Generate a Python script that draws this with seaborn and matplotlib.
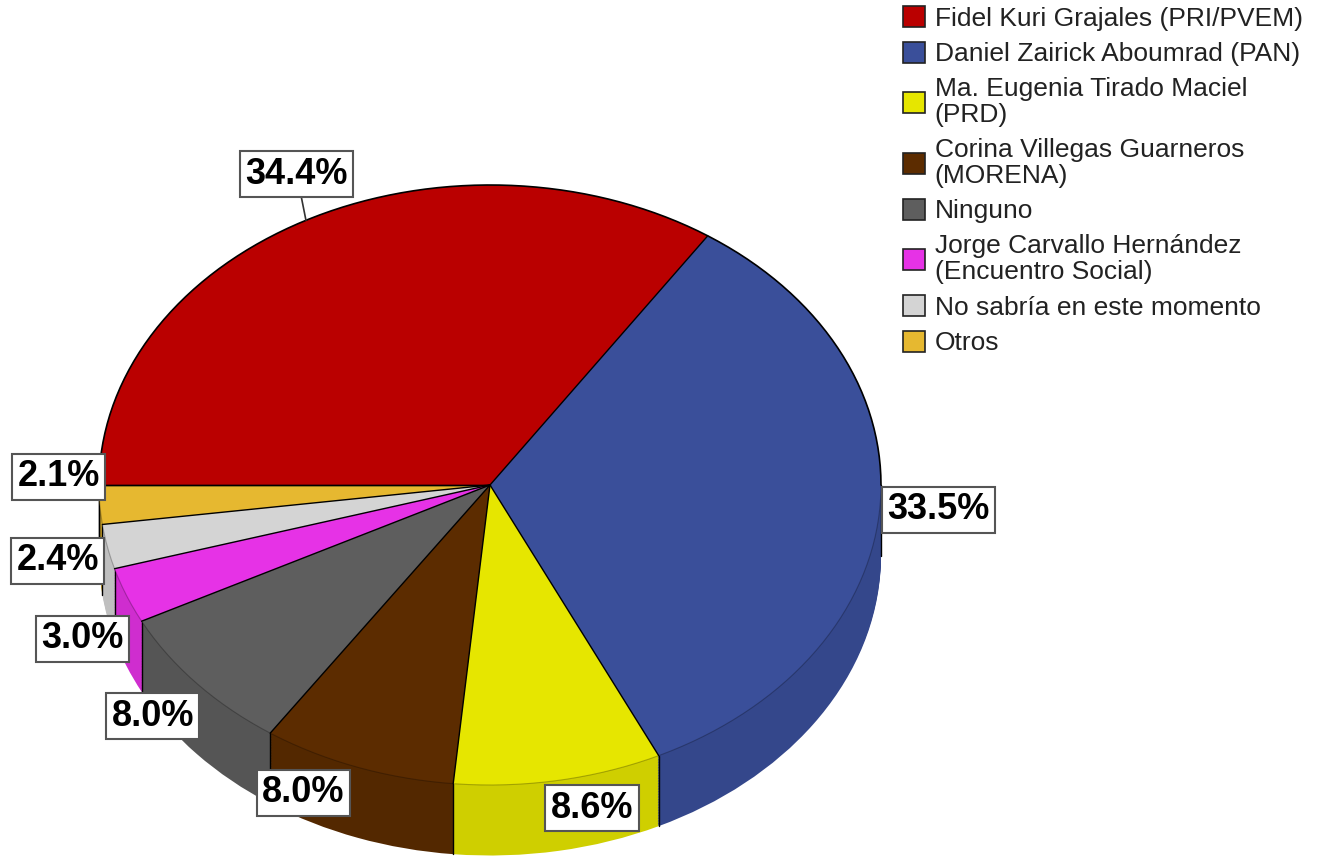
import numpy as np
import matplotlib
matplotlib.use("Agg")
import matplotlib.pyplot as plt
import matplotlib.colors as mcolors
from matplotlib.patches import Patch
import seaborn as sns

# data
candidates = [
    "Fidel Kuri Grajales (PRI/PVEM)",
    "Daniel Zairick Aboumrad (PAN)",
    "Ma. Eugenia Tirado Maciel\n(PRD)",
    "Corina Villegas Guarneros\n(MORENA)",
    "Ninguno",
    "Jorge Carvallo Hernández\n(Encuentro Social)",
    "No sabría en este momento",
    "Otros",
]
percent = [34.4, 33.5, 8.6, 8.0, 8.0, 3.0, 2.4, 2.1]
colors = ["#BA0000", "#3A4F9A", "#E6E600", "#5C2C00",
          "#5E5E5E", "#E632E6", "#D4D4D4", "#E6B830"]

# layout of the value boxes (radius factor, vertical nudge)
label_r = [1.05, 1.15, 1.49, 1.41, 1.15, 1.12, 1.13, 1.105]
label_dy = [0.11, 0.0, 0.39, 0.30, -0.01, -0.10, -0.02, 0.10]

sns.set_theme(style="white")
plt.rcParams["font.family"] = ["Liberation Sans", "DejaVu Sans"]

fig = plt.figure(figsize=(13.17, 8.56), dpi=100)
ax = fig.add_axes([0, 0, 1, 1])

palette = sns.color_palette(colors)
side = [tuple(c * 0.9 for c in mcolors.to_rgb(col)) for col in palette]

depth = 0.235
start = 180

# extruded side of the 3D pie
for d in np.linspace(depth, 0.0, 45):
    ax.pie(percent, colors=side, startangle=start, counterclock=False,
           center=(0, -d), wedgeprops=dict(linewidth=0))

bounds = start - 360 * np.cumsum([0] + percent) / sum(percent)

# vertical edges on the visible front side
for b in list(bounds) + [0.0]:
    t = np.deg2rad(b)
    x, y = np.cos(t), np.sin(t)
    if y <= 1e-9:
        ax.plot([x, x], [y, y - depth], color="black", lw=1.0, zorder=3)

# top face
wedges, _ = ax.pie(percent, colors=palette, startangle=start, counterclock=False,
                   wedgeprops=dict(linewidth=0))
for w in wedges:
    w.set_zorder(4)

# outlines of the top face: radial edges, back rim in black, soft front rim
for b in bounds:
    t = np.deg2rad(b)
    ax.plot([0, np.cos(t)], [0, np.sin(t)], color="black", lw=1.0, zorder=5)
back = np.linspace(0, np.pi, 200)
ax.plot(np.cos(back), np.sin(back), color="black", lw=1.2, zorder=5)
front = np.linspace(np.pi, 2 * np.pi, 200)
ax.plot(np.cos(front), np.sin(front), color="black", lw=0.8, alpha=0.25, zorder=5)

# value labels
mids = (bounds[:-1] + bounds[1:]) / 2
for i, (p, m) in enumerate(zip(percent, mids)):
    t = np.deg2rad(m)
    tx = label_r[i] * np.cos(t)
    ty = label_r[i] * np.sin(t) + label_dy[i]
    arrow = None
    if i == 0:
        arrow = dict(arrowstyle="-", color="#333333", lw=1.2, shrinkA=0, shrinkB=0)
    ax.annotate(f"{p:.1f}%", xy=(np.cos(t), np.sin(t)), xytext=(tx, ty),
                ha="center", va="center", fontsize=26, fontweight="bold",
                color="black", arrowprops=arrow, zorder=10,
                bbox=dict(boxstyle="square,pad=0.15", fc="white",
                          ec="#555555", lw=1.5))

ax.set_aspect("auto")
ax.set_xlim(-490 / 391, (1317 - 490) / 391)
ax.set_ylim(-371 / 300, 485 / 300)
ax.axis("off")

handles = [Patch(facecolor=c, edgecolor="#222222", linewidth=1.2) for c in palette]
leg = fig.legend(handles, candidates, loc="upper left",
                 bbox_to_anchor=(903 / 1317, 1 - 6 / 856), frameon=False,
                 fontsize=19, handlelength=0.85, handleheight=0.85,
                 handletextpad=0.35, labelspacing=0.42, borderpad=0,
                 borderaxespad=0)
for t in leg.get_texts():
    t.set_linespacing(1.08)
    t.set_color("#222222")

fig.savefig("out.png", dpi=100)
